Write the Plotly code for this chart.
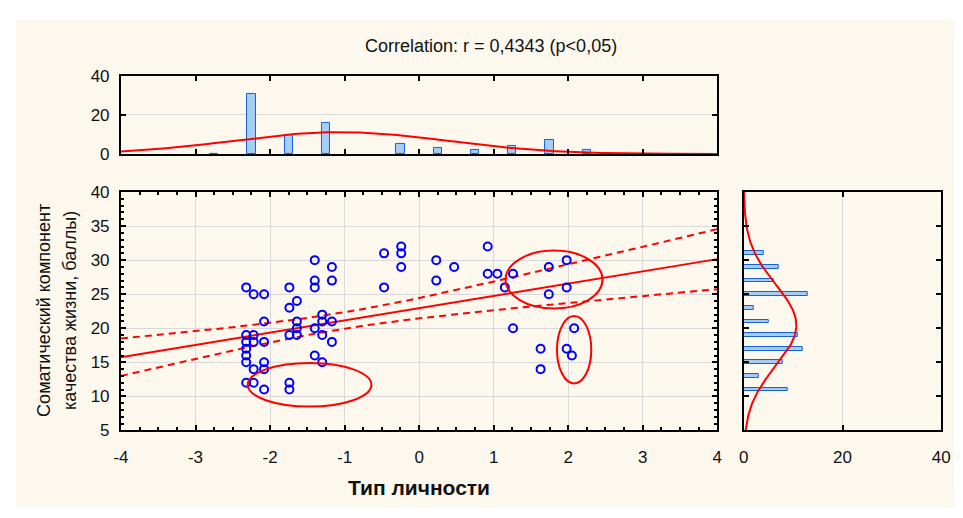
import numpy as np
import plotly.graph_objects as go

# ---------------- data ----------------
scatter_x = [-2.32, -2.22, -2.08, -2.08, -2.32, -2.22, -2.32, -2.22, -2.08, -2.32, -2.32, -2.32,
             -2.08, -2.08, -2.22, -2.32, -2.22, -2.08,
             -1.74, -1.74, -1.74, -1.74, -1.64, -1.64, -1.64, -1.64, -1.74,
             -1.40, -1.40, -1.40, -1.40, -1.40,
             -1.17, -1.17, -1.17, -1.17,
             -1.30, -1.30, -1.30, -1.30,
             -0.47, -0.47, -0.24, -0.24, -0.24,
             0.23, 0.23, 0.47, 0.92, 0.92, 1.05, 1.15, 1.26, 1.26,
             1.74, 1.74, 1.98, 1.98, 1.63, 1.63, 1.98, 2.05, 2.08]
scatter_y = [26, 25, 25, 21, 19, 19, 18, 18, 18, 17, 16, 15,
             15, 14, 14, 12, 12, 11,
             12, 11, 26, 23, 24, 21, 20, 19, 19,
             30, 27, 26, 20, 16,
             29, 27, 21, 18,
             22, 21, 19, 15,
             31, 26, 32, 31, 29,
             30, 27, 29, 32, 28, 28, 26, 28, 20,
             29, 25, 30, 26, 17, 14, 17, 16, 20]

# top histogram (Тип личности)
hist_x_centers = [-2.75, -2.25, -1.75, -1.25, -0.25, 0.25, 0.75, 1.25, 1.75, 2.25]
hist_x_counts = [0, 31, 10, 16, 5, 3, 2, 4, 7, 2]
HIST_X_BIN = 0.5

# right histogram (somatic component)
hist_y_centers = [9, 11, 13, 15, 17, 19, 21, 23, 25, 27, 29, 31]
hist_y_counts = [0, 9, 3, 8, 12, 11, 5, 2, 13, 6, 7, 4]
HIST_Y_BIN = 2.0

# x tick labels (hyphen minus as in the original)
x_tick_vals = [-4, -3, -2, -1, 0, 1, 2, 3, 4]
x_tick_text = ["-4", "-3", "-2", "-1", "0", "1", "2", "3", "4"]

# regression fit
REG_INTERCEPT = 22.95
REG_SLOPE = 1.80
REG_TS = 10.7   # t * residual sd

# highlighted ellipses (x0, x1, y0, y1)
ellipses = [(-2.30, -0.64, 8.5, 14.9),
            (1.16, 2.46, 22.9, 31.4),
            (1.85, 2.31, 11.9, 21.8)]

title_text = "Correlation: r = 0,4343 (p<0,05)"
x_title = "Тип личности"
y_title_lines = ["Соматический компонент", "качества жизни, баллы)"]

# ---------------- derived ----------------
hx = np.array(hist_x_centers); hcx = np.array(hist_x_counts)
hy = np.array(hist_y_centers); hcy = np.array(hist_y_counts)
N = hcx.sum()
mx = (hx * hcx).sum() / N
sx = np.sqrt(((hx - mx) ** 2 * hcx).sum() / N)
my = (hy * hcy).sum() / hcy.sum()
sy = np.sqrt(((hy - my) ** 2 * hcy).sum() / hcy.sum())
SXX = ((hx - mx) ** 2 * hcx).sum()

def npdf(v, m, s):
    return np.exp(-0.5 * ((v - m) / s) ** 2) / (s * np.sqrt(2 * np.pi))

cx = np.linspace(-4, 4, 200)
curve_top = npdf(cx, mx, sx) * N * HIST_X_BIN
cy = np.linspace(5, 40, 200)
curve_right = npdf(cy, my, sy) * hcy.sum() * HIST_Y_BIN

rx = np.linspace(-4, 4, 100)
ry = REG_INTERCEPT + REG_SLOPE * rx
half = REG_TS * np.sqrt(1 / N + (rx - mx) ** 2 / SXX)

# ---------------- figure ----------------
W, H = 963, 518
FONT = "Liberation Sans, Arial, sans-serif"
RED = "#ff0000"
BLUE = "#0000ff"
TXT = "#111111"

fig = go.Figure()

fig.add_trace(go.Scatter(x=rx, y=ry + half, mode="lines", line=dict(color=RED, width=2, dash="7px,5px"),
                         xaxis="x", yaxis="y", hoverinfo="skip"))
fig.add_trace(go.Scatter(x=rx, y=ry - half, mode="lines", line=dict(color=RED, width=2, dash="7px,5px"),
                         xaxis="x", yaxis="y", hoverinfo="skip"))
fig.add_trace(go.Scatter(x=rx, y=ry, mode="lines", line=dict(color=RED, width=2),
                         xaxis="x", yaxis="y"))
fig.add_trace(go.Scatter(x=scatter_x, y=scatter_y, mode="markers",
                         marker=dict(symbol="circle-open", size=8, color=BLUE, line=dict(width=2, color=BLUE)),
                         xaxis="x", yaxis="y"))

fig.add_trace(go.Bar(x=hist_x_centers, y=hist_x_counts, width=0.11,
                     marker=dict(color="#a6cdf5", line=dict(color="#1560d8", width=1)),
                     xaxis="x2", yaxis="y2"))
fig.add_trace(go.Scatter(x=cx, y=curve_top, mode="lines", line=dict(color=RED, width=2),
                         xaxis="x2", yaxis="y2"))

fig.add_trace(go.Bar(y=hist_y_centers, x=hist_y_counts, width=0.55, orientation="h",
                     marker=dict(color="#a6cdf5", line=dict(color="#1560d8", width=1)),
                     xaxis="x3", yaxis="y3"))
fig.add_trace(go.Scatter(x=curve_right, y=cy, mode="lines", line=dict(color=RED, width=2),
                         xaxis="x3", yaxis="y3"))

for (x0, x1, y0, y1) in ellipses:
    fig.add_shape(type="circle", xref="x", yref="y", x0=x0, x1=x1, y0=y0, y1=y1,
                  line=dict(color=RED, width=2))

# cream background panel
fig.add_shape(type="rect", xref="paper", yref="paper", x0=8 / W, x1=1, y0=0, y1=1 - 11 / H,
              fillcolor="#fdf8ed", line=dict(width=0), layer="below")

def px(v):
    return v / W

def py(v):
    return 1 - v / H

common = dict(showline=True, linecolor="black", linewidth=2, mirror="ticks", ticks="inside",
              tickcolor="black", tickwidth=1.5, ticklen=5, zeroline=False,
              gridcolor="#d8d8d8", gridwidth=1,
              tickfont=dict(family=FONT, size=17, color=TXT))

main_x_dom = [px(115), px(722)]
main_y_dom = [py(437.5), py(190)]

fig.update_layout(
    width=W, height=H,
    margin=dict(l=0, r=0, t=0, b=0),
    paper_bgcolor="white", plot_bgcolor="white",
    showlegend=False, bargap=0,
    font=dict(family=FONT, color=TXT),
    xaxis=dict(domain=main_x_dom, range=[-4, 4], tickmode="array", tickvals=x_tick_vals,
               ticktext=x_tick_text, anchor="y", showgrid=True,
               ticklabelstandoff=10,
               minor=dict(ticks="inside", dtick=0.25, ticklen=3, tickcolor="black", showgrid=False),
               **common),
    yaxis=dict(domain=main_y_dom, range=[5, 40], dtick=5, anchor="x", showgrid=True,
               ticklabelstandoff=6,
               minor=dict(ticks="inside", dtick=1, ticklen=3, tickcolor="black", showgrid=False),
               **common),
    xaxis2=dict(domain=main_x_dom, range=[-4, 4], dtick=1, anchor="y2", showgrid=False,
                showticklabels=False, **common),
    yaxis2=dict(domain=[py(150.5), py(69.5)], range=[0, 40], dtick=20, anchor="x2", showgrid=True,
                ticklabelstandoff=6, **common),
    xaxis3=dict(domain=[px(749), px(950)], range=[0, 40], dtick=20, anchor="y3", showgrid=True,
                ticklabelstandoff=10, **common),
    yaxis3=dict(domain=main_y_dom, range=[5, 40], dtick=5, anchor="x3", showgrid=False,
                showticklabels=False, **common),
)

fig.add_annotation(text=title_text, x=px(492), y=py(38), xref="paper", yref="paper",
                   showarrow=False, xanchor="center", yanchor="middle",
                   font=dict(family=FONT, size=18, color=TXT))
fig.add_annotation(text="<b>" + x_title + "</b>", x=px(418), y=py(497), xref="paper", yref="paper",
                   showarrow=False, xanchor="center", yanchor="middle",
                   font=dict(family=FONT, size=21, color=TXT))
for xpos, line in zip([36, 62.5], y_title_lines):
    fig.add_annotation(text=line, x=px(xpos), y=py(313), xref="paper", yref="paper",
                       showarrow=False, xanchor="center", yanchor="middle", textangle=-90,
                       font=dict(family=FONT, size=18, color=TXT))

post = """
document.documentElement.style.margin='0';
document.body.style.margin='0';
document.body.style.padding='0';
document.body.style.overflow='hidden';
"""

fig.write_html("out.html", config={"displayModeBar": False}, post_script=post)
